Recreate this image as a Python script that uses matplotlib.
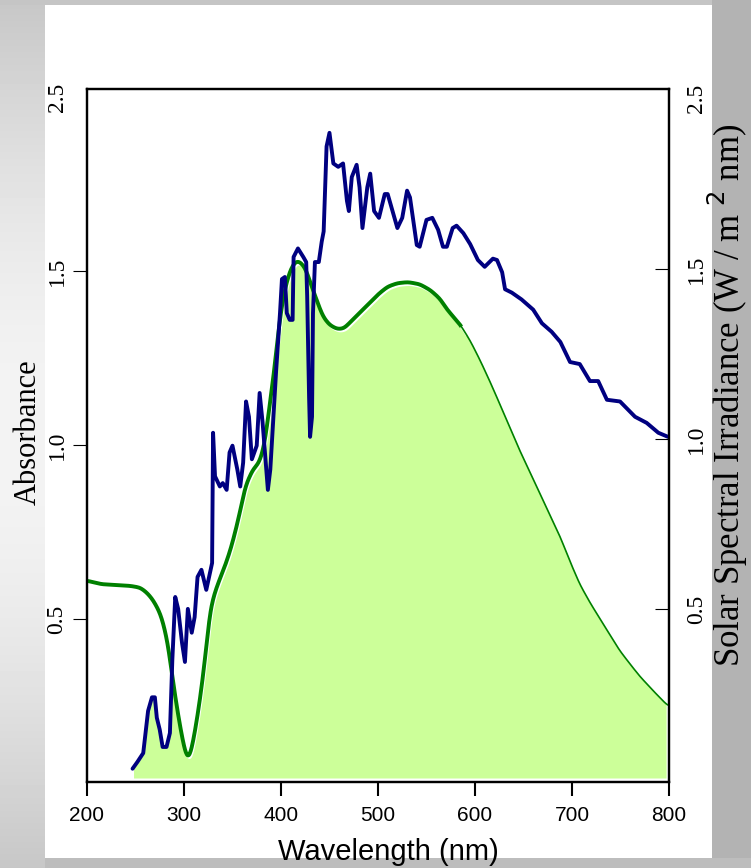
import numpy as np
import matplotlib
matplotlib.use('Agg')
import matplotlib.pyplot as plt
from matplotlib.transforms import offset_copy

# absorbance spectrum (left axis)
abs_wl = [200, 215, 234, 245, 255, 262, 268, 273, 277, 283.5, 288, 293, 298, 303, 306,
          311, 316.5, 321.6, 327, 334, 340, 347, 352, 358, 363, 371, 378, 383.5, 389,
          394, 396, 402, 409, 414, 418, 425, 433, 443, 450, 458, 465, 474, 483, 492,
          501, 510, 520, 531, 543, 554, 564, 571, 585, 595, 605, 615, 626, 636, 646,
          657, 667, 678, 688, 698, 708, 719, 729, 739, 749, 760, 770, 785, 799]
abs_val = [0.61, 0.60, 0.597, 0.595, 0.59, 0.575, 0.555, 0.53, 0.506, 0.43, 0.333, 0.24,
           0.16, 0.095, 0.10, 0.17, 0.267, 0.38, 0.53, 0.595, 0.635, 0.69, 0.74, 0.81,
           0.88, 0.93, 0.95, 1.006, 1.13, 1.23, 1.30, 1.425, 1.50, 1.525, 1.53, 1.51,
           1.445, 1.37, 1.345, 1.333, 1.335, 1.36, 1.385, 1.41, 1.435, 1.455, 1.465,
           1.468, 1.462, 1.445, 1.42, 1.39, 1.345, 1.30, 1.245, 1.185, 1.115, 1.05, 0.985,
           0.92, 0.86, 0.795, 0.735, 0.665, 0.60, 0.545, 0.50, 0.455, 0.41, 0.37, 0.335,
           0.29, 0.25]

# solar spectral irradiance (right axis)
sol_wl = [247, 252, 258, 263, 267, 270, 272, 275, 278, 282, 285.5, 288, 291, 294, 298,
          301, 304, 308, 311, 314, 318, 323, 329, 330, 332, 337, 340, 344, 347, 350,
          355, 358, 361, 364, 367, 370, 375, 378, 381, 386.5, 389, 395, 399, 401, 404,
          406, 409, 412, 413, 417.5, 423, 426, 427, 429, 430, 432, 433, 435, 439, 442,
          444, 447, 450, 454, 459, 464, 468, 470, 473, 478, 481, 484, 489, 492, 496,
          501, 507, 510, 520, 525, 530, 533, 540, 543, 550, 556, 562, 567, 571, 577,
          581, 588, 595, 603, 610, 618.5, 622.7, 628, 631, 638, 648, 660, 669, 679,
          688, 698, 708, 718.5, 727, 736, 749.5, 765, 777, 789, 799]
sol_val = [0.03, 0.05, 0.076, 0.20, 0.24, 0.24, 0.18, 0.145, 0.094, 0.094, 0.135, 0.35,
           0.535, 0.50, 0.40, 0.344, 0.50, 0.43, 0.476, 0.594, 0.615, 0.556, 0.635,
           1.018, 0.89, 0.86, 0.87, 0.85, 0.96, 0.98, 0.91, 0.86, 0.93, 1.11, 1.065,
           0.94, 0.98, 1.135, 1.05, 0.85, 0.91, 1.20, 1.37, 1.47, 1.476, 1.37, 1.35,
           1.35, 1.535, 1.56, 1.535, 1.52, 1.42, 1.12, 1.006, 1.065, 1.37, 1.52, 1.52,
           1.58, 1.61, 1.86, 1.90, 1.81, 1.80, 1.81, 1.70, 1.67, 1.77, 1.806, 1.74,
           1.62, 1.74, 1.78, 1.67, 1.65, 1.72, 1.72, 1.62, 1.65, 1.73, 1.71, 1.57,
           1.565, 1.644, 1.65, 1.615, 1.565, 1.565, 1.62, 1.627, 1.605, 1.573, 1.526,
           1.506, 1.53, 1.526, 1.49, 1.44, 1.43, 1.41, 1.38, 1.34, 1.315, 1.285, 1.226,
           1.22, 1.17, 1.17, 1.115, 1.11, 1.065, 1.047, 1.018, 1.006]

x_ticks = [200, 300, 400, 500, 600, 700, 800]
y_ticks = [0.5, 1.0, 1.5, 2.0]
y_ticklabels = ['0.5', '1.0', '1.5', '2.5']

serif = 'Liberation Serif'
sans = 'Liberation Sans'

fig = plt.figure(figsize=(7.51, 8.68), dpi=100)

# grey slide frame round a white panel
H, W = 868, 751
yy, xx = np.mgrid[0:H, 0:W]
bg = 0.78 + 0.175 * np.sin(np.pi * yy / H)
bg[yy < 5] = 0.77
bg[(xx >= 45) & (xx < 712) & (yy >= 5) & (yy < 858)] = 1.0
bg[xx >= 712] = 0.706
bg[(yy >= 858) & (xx >= 45)] = 0.74
bga = fig.add_axes([0, 0, 1, 1], zorder=-10)
bga.imshow(bg, cmap='gray', vmin=0, vmax=1, aspect='auto', interpolation='nearest')
bga.axis('off')

ax = fig.add_axes([0.1158, 0.0991, 0.775, 0.7984])
ax.set_facecolor('none')
ax2 = ax.twinx()

ax.set_xlim(200, 800)
ax.set_ylim(0.0316, 2.023)
ax2.set_ylim(-0.009, 2.029)

# smooth the absorbance curve a little for drawing
fine = np.arange(200, 799.01, 0.5)
gf = np.interp(fine, abs_wl, abs_val)
k = np.exp(-0.5 * (np.arange(-12, 13) / 5.0) ** 2)
k /= k.sum()
gf = np.convolve(np.pad(gf, 12, mode='edge'), k, mode='valid')

# shaded overlap region
grid = fine[(fine >= 248) & (fine <= 797)]
g = np.interp(grid, fine, gf)
s = np.interp(grid, sol_wl, sol_val)
pts = ax2.transData.transform(np.column_stack([grid, s]))
s_left = ax.transData.inverted().transform(pts)[:, 1]
top = np.where(grid < 288, np.minimum(g, s_left), g)
ax.fill_between(grid, 0.043, top, color='#ccff99', lw=0, zorder=1)

hl = (grid > 300) & (grid < 590)
ax.plot(grid[hl], g[hl], color='white', lw=1.6, zorder=2,
        transform=offset_copy(ax.transData, fig=fig, x=1.5, y=-2.5, units='dots'))

thick = fine <= 586
ax.plot(fine[thick], gf[thick], color='#008000', lw=2.8, zorder=3, solid_capstyle='butt')
ax.plot(fine[fine >= 585], gf[fine >= 585], color='#008000', lw=1.2, zorder=3)

ax2.plot(sol_wl, sol_val, color='#000080', lw=2.8, solid_joinstyle='round',
         solid_capstyle='round')

ax.set_xticks(x_ticks)
ax.set_xticklabels([str(t) for t in x_ticks], fontfamily=sans, fontsize=15)
ax.tick_params(axis='x', direction='out', length=10, width=1.5, pad=7)

for a in (ax, ax2):
    a.set_yticks(y_ticks)
    a.set_yticklabels(y_ticklabels, rotation=90, va='center', fontfamily=serif, fontsize=17)
ax.tick_params(axis='y', direction='out', length=10, width=0.8, pad=4)
ax2.tick_params(axis='y', direction='in', length=10, width=0.8, pad=12)
ax.yaxis.get_major_ticks()[-1].tick1line.set_visible(False)
ax2.yaxis.get_major_ticks()[-1].tick2line.set_visible(False)

for a in (ax, ax2):
    for sp in a.spines.values():
        sp.set_linewidth(1.6)
        sp.set_color('black')

fig.text(28 / W, 1 - 432 / H, 'Absorbance', rotation=90, ha='center', va='center',
         fontfamily=serif, fontsize=22)
fig.text(740 / W, 1 - 395 / H, r'Solar Spectral Irradiance (W / m $^{2}$ nm)',
         rotation=90, rotation_mode='anchor', ha='center', va='baseline',
         fontfamily=serif, fontsize=25)
fig.text(388 / W, 1 - 852 / H, 'Wavelength (nm)', ha='center', va='center',
         fontfamily=sans, fontsize=21)

fig.savefig('out.png', dpi=100)
